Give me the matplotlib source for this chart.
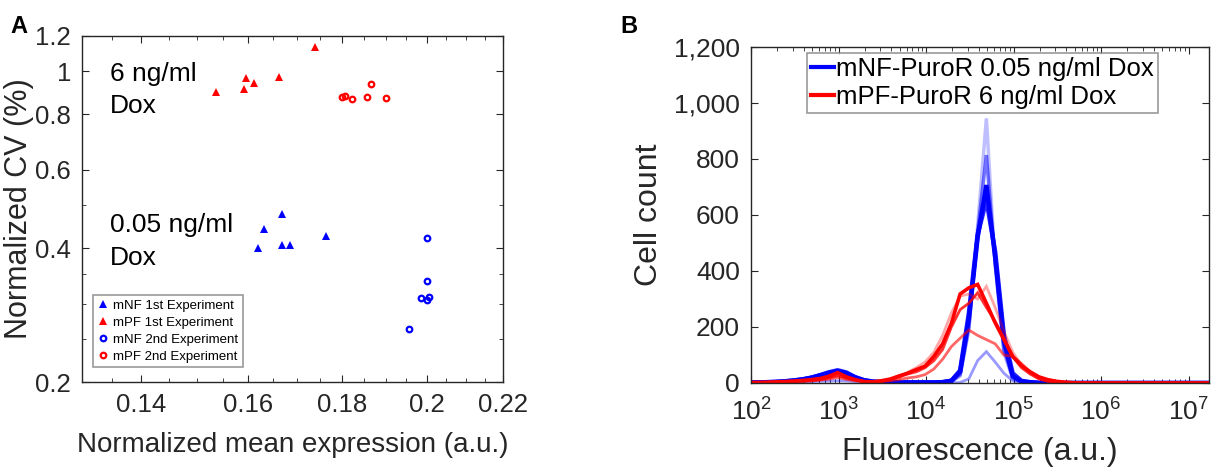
import numpy as np
import matplotlib
matplotlib.use("Agg")
import matplotlib.pyplot as plt
from matplotlib.ticker import FixedLocator, FixedFormatter, NullFormatter, FuncFormatter, LogLocator

plt.rcParams['font.family'] = ['Liberation Sans', 'DejaVu Sans']
plt.rcParams['mathtext.default'] = 'regular'
TXT = '#262626'

# ---- panel A: normalized CV vs normalized mean expression ----
mnf1_x = [0.1620, 0.1631, 0.1670, 0.1670, 0.1686, 0.1764]
mnf1_y = [0.400, 0.441, 0.477, 0.406, 0.407, 0.425]
mpf1_x = [0.1537, 0.1591, 0.1596, 0.1611, 0.1662, 0.1739]
mpf1_y = [0.898, 0.914, 0.963, 0.943, 0.968, 1.134]
mnf2_x = [0.1957, 0.1985, 0.2000, 0.2001, 0.2000, 0.2006]
mnf2_y = [0.263, 0.309, 0.422, 0.338, 0.306, 0.311]
mpf2_x = [0.1799, 0.1805, 0.1822, 0.1855, 0.1866, 0.1901]
mpf2_y = [0.875, 0.880, 0.865, 0.874, 0.938, 0.871]

a_xticks = [0.14, 0.16, 0.18, 0.2, 0.22]
a_xlabels = ['0.14', '0.16', '0.18', '0.2', '0.22']
a_yticks = [0.2, 0.4, 0.6, 0.8, 1.0, 1.2]
a_ylabels = ['0.2', '0.4', '0.6', '0.8', '1', '1.2']

# ---- panel B: histograms, bin centres in log10 units ----
log_bins = [1.99, 2.09, 2.19, 2.29, 2.39, 2.49, 2.59, 2.69, 2.79, 2.89,
            2.99, 3.09, 3.19, 3.29, 3.39, 3.49, 3.59, 3.69, 3.79, 3.89,
            3.99, 4.09, 4.19, 4.29, 4.39, 4.49, 4.59, 4.69, 4.79, 4.89,
            4.99, 5.09, 5.19, 5.29, 5.39, 5.49, 5.59, 5.69, 5.79, 5.89,
            6.5, 7.0, 7.5]

mnf_hists = [
    # (counts, alpha, linewidth)
    ([3, 2, 4, 5, 8, 10, 14, 20, 30, 40, 48, 40, 22, 10, 5, 3, 2, 2, 1, 1,
      1, 1, 2, 4, 25, 190, 560, 945, 420, 110, 15, 3, 1, 0, 0, 0, 0, 0, 0, 0,
      0, 0, 0], 0.25, 2.5),
    ([2, 2, 3, 4, 6, 8, 12, 18, 26, 35, 40, 33, 18, 9, 4, 2, 2, 1, 1, 1,
      1, 1, 2, 5, 30, 200, 540, 814, 430, 120, 20, 4, 1, 0, 0, 0, 0, 0, 0, 0,
      0, 0, 0], 0.55, 2.5),
    ([1, 1, 1, 2, 2, 3, 4, 5, 6, 7, 8, 7, 5, 3, 2, 1, 1, 0, 0, 0,
      0, 0, 0, 0, 2, 15, 80, 112, 75, 35, 8, 2, 0, 0, 0, 0, 0, 0, 0, 0,
      0, 0, 0], 0.4, 2.0),
    ([2, 2, 3, 4, 6, 9, 13, 19, 28, 38, 45, 37, 21, 10, 5, 3, 2, 2, 2, 2,
      2, 2, 3, 8, 45, 250, 530, 654, 470, 170, 35, 8, 2, 0, 0, 0, 0, 0, 0, 0,
      0, 0, 0], 0.85, 3.2),
    ([2, 2, 3, 4, 6, 9, 13, 19, 27, 36, 42, 35, 20, 10, 5, 3, 2, 2, 2, 2,
      2, 2, 3, 8, 40, 230, 520, 707, 450, 150, 25, 6, 3, 1, 0, 0, 0, 0, 0, 0,
      0, 0, 0], 1.0, 3.2),
]

mpf_hists = [
    ([1, 1, 2, 3, 4, 5, 7, 9, 12, 17, 25, 16, 10, 6, 4, 6, 10, 18, 38, 55,
      75, 110, 170, 250, 310, 318, 300, 345, 270, 185, 110, 65, 35, 15, 6, 2, 1, 0, 0, 0,
      0, 0, 0], 0.35, 2.0),
    ([1, 1, 2, 2, 3, 4, 5, 7, 10, 14, 20, 13, 8, 5, 4, 5, 8, 12, 18, 22,
      30, 50, 85, 130, 160, 189, 170, 155, 140, 100, 95, 70, 40, 20, 8, 3, 1, 0, 0, 0,
      0, 0, 0], 0.6, 2.0),
    ([1, 1, 2, 3, 4, 5, 7, 10, 13, 19, 28, 18, 11, 6, 4, 6, 12, 22, 32, 40,
      55, 80, 120, 200, 262, 285, 322, 270, 220, 160, 95, 55, 32, 15, 6, 3, 1, 0, 0, 0,
      0, 0, 0], 0.8, 2.0),
    ([2, 2, 3, 4, 5, 7, 9, 12, 16, 24, 37, 22, 12, 5, 4, 8, 14, 25, 35, 48,
      60, 95, 140, 213, 318, 340, 352, 285, 215, 155, 95, 62, 40, 22, 12, 6, 3, 1, 0, 0,
      0, 0, 0], 1.0, 2.6),
]

b_labels = ['mNF-PuroR 0.05 ng/ml Dox', 'mPF-PuroR 6 ng/ml Dox']


def style_axes(ax):
    for s in ax.spines.values():
        s.set_color(TXT)
        s.set_linewidth(1.0)
    ax.tick_params(which='both', direction='in', top=True, right=True, colors=TXT)
    ax.tick_params(which='major', length=5)
    ax.tick_params(which='minor', length=3)


fig = plt.figure(figsize=(12.2, 4.67), dpi=100)

# panel A
axA = fig.add_axes([82 / 1220, 1 - 382 / 467, 421 / 1220, 346 / 467])
axA.set_xscale('log')
axA.set_yscale('log')
axA.plot(mnf1_x, mnf1_y, '^', color='#0000ff', ms=6, mew=0, label='mNF 1st Experiment')
axA.plot(mpf1_x, mpf1_y, '^', color='#ff0000', ms=6, mew=0, label='mPF 1st Experiment')
axA.plot(mnf2_x, mnf2_y, 'o', color='#0000ff', mfc='none', ms=4, mew=1.6, label='mNF 2nd Experiment')
axA.plot(mpf2_x, mpf2_y, 'o', color='#ff0000', mfc='none', ms=4, mew=1.6, label='mPF 2nd Experiment')
axA.set_xlim(0.13, 0.22)
axA.set_ylim(0.2, 1.2)
axA.xaxis.set_major_locator(FixedLocator(a_xticks))
axA.xaxis.set_major_formatter(FixedFormatter(a_xlabels))
axA.xaxis.set_minor_locator(FixedLocator(np.arange(0.135, 0.22, 0.005)))
axA.xaxis.set_minor_formatter(NullFormatter())
axA.yaxis.set_major_locator(FixedLocator(a_yticks))
axA.yaxis.set_major_formatter(FixedFormatter(a_ylabels))
axA.yaxis.set_minor_locator(FixedLocator([0.25, 0.3, 0.35, 0.5]))
axA.yaxis.set_minor_formatter(NullFormatter())
style_axes(axA)
axA.tick_params(which='major', labelsize=18.5, pad=8)
axA.set_xlabel('Normalized mean expression (a.u.)', fontsize=20, color=TXT, labelpad=11)
axA.set_ylabel('Normalized CV (%)', fontsize=22, color=TXT, labelpad=1)
axA.text(0.066, 0.925, '6 ng/ml\nDox', transform=axA.transAxes, fontsize=19,
         va='top', ha='left', linespacing=1.45, color='black')
axA.text(0.066, 0.487, '0.05 ng/ml\nDox', transform=axA.transAxes, fontsize=19,
         va='top', ha='left', linespacing=1.45, color='black')
legA = axA.legend(loc='lower left', bbox_to_anchor=(0.026, 0.043), borderaxespad=0,
                  fontsize=9.5, frameon=True, fancybox=False, handlelength=0.8,
                  handletextpad=0.4, labelspacing=0.35, borderpad=0.35)
legA.get_frame().set_edgecolor('#808080')
legA.get_frame().set_linewidth(1.2)

# panel B
axB = fig.add_axes([751 / 1220, 1 - 383 / 467, 458 / 1220, 336 / 467])
axB.set_xscale('log')
xb = [10 ** v for v in log_bins]
for counts, a, lw in mnf_hists:
    axB.plot(xb, counts, color='#0000ff', alpha=a, lw=lw, solid_joinstyle='miter')
for counts, a, lw in mpf_hists:
    axB.plot(xb, counts, color='#ff0000', alpha=a, lw=lw, solid_joinstyle='miter')
axB.set_xlim(1e2, 10 ** 7.234)
axB.set_ylim(0, 1200)
axB.xaxis.set_major_locator(LogLocator(base=10, numticks=10))
axB.xaxis.set_minor_locator(LogLocator(base=10, subs=np.arange(2, 10), numticks=20))
axB.xaxis.set_minor_formatter(NullFormatter())
axB.set_yticks([0, 200, 400, 600, 800, 1000, 1200])
axB.yaxis.set_major_formatter(FuncFormatter(lambda v, p: '{:,.0f}'.format(v)))
style_axes(axB)
axB.tick_params(which='major', labelsize=19, pad=8)
axB.tick_params(axis='x', which='major', pad=11)
axB.set_xlabel('Fluorescence (a.u.)', fontsize=23, color=TXT, labelpad=8)
axB.set_ylabel('Cell count', fontsize=23, color=TXT, labelpad=7)
hb = [plt.Line2D([], [], color='#0000ff', lw=3), plt.Line2D([], [], color='#ff0000', lw=3)]
legB = axB.legend(hb, b_labels, loc='upper left', bbox_to_anchor=(0.122, 0.982),
                  borderaxespad=0, fontsize=18.5, frameon=True, fancybox=False,
                  handlelength=0.9, handletextpad=0.1, labelspacing=0.15, borderpad=0.15)
legB.get_frame().set_edgecolor('#808080')
legB.get_frame().set_linewidth(1.2)

fig.text(10 / 1220, 1 - 33 / 467, 'A', fontsize=17, fontweight='bold', va='baseline')
fig.text(620 / 1220, 1 - 33 / 467, 'B', fontsize=17, fontweight='bold', va='baseline')

fig.savefig('out.png', dpi=100)
